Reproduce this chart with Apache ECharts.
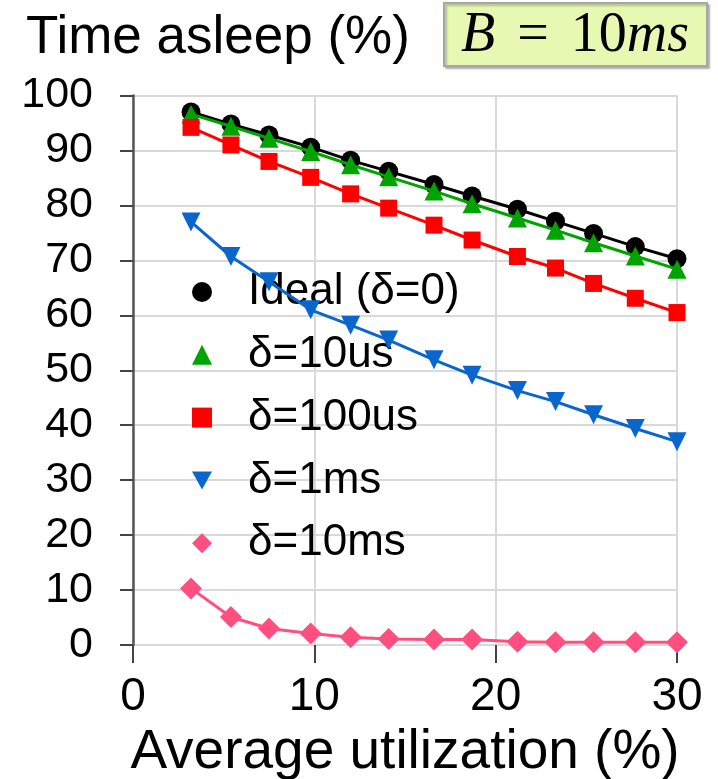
<!DOCTYPE html>
<html>
<head>
<meta charset="utf-8">
<script src="https://cdn.jsdelivr.net/npm/echarts@6/dist/echarts.min.js"></script>
<style>
html,body{margin:0;padding:0;background:#fff;}
#chart{width:718px;height:779px;}
</style>
</head>
<body>
<div id="chart"></div>
<script>
const utilization = [3.2, 5.4, 7.5, 9.8, 12.0, 14.1, 16.6, 18.7, 21.2, 23.3, 25.4, 27.7, 30.0];
const seriesNames = ['Ideal (δ=0)', 'δ=10us', 'δ=100us', 'δ=1ms', 'δ=10ms'];
const ideal   = [97.0, 94.8, 92.8, 90.6, 88.2, 86.2, 83.8, 81.7, 79.3, 77.1, 74.9, 72.5, 70.3];
const d10us   = [96.6, 94.4, 92.2, 89.8, 87.4, 85.2, 82.6, 80.3, 77.7, 75.5, 73.2, 70.8, 68.4];
const d100us  = [94.2, 91.0, 88.0, 85.1, 82.1, 79.5, 76.4, 73.7, 70.7, 68.6, 65.8, 63.1, 60.5];
const d1ms    = [77.0, 70.7, 66.1, 61.0, 58.2, 55.5, 51.9, 49.1, 46.3, 44.3, 41.9, 39.4, 37.0];
const d10ms   = [10.3, 5.1, 3.0, 2.1, 1.4, 1.1, 1.0, 1.0, 0.6, 0.5, 0.5, 0.5, 0.5];
const xTicks = [0, 10, 20, 30];
const yTicks = [0, 10, 20, 30, 40, 50, 60, 70, 80, 90, 100];
const yTitle = 'Time asleep (%)';
const xTitle = 'Average utilization (%)';

const FONT = '"Liberation Sans", Arial, Helvetica, sans-serif';
const SERIF = '"Liberation Serif", "DejaVu Serif", serif';
const downTri = 'path://M0,0 L10,0 L5,9 Z';
const styles = [
  {color: '#000000', symbol: 'circle', size: 19, icon: 'circle'},
  {color: '#00a300', symbol: 'triangle', size: 19, icon: 'triangle'},
  {color: '#ff0000', symbol: 'rect', size: 17, icon: 'rect'},
  {color: '#0a66cc', symbol: downTri, size: 19, icon: downTri},
  {color: '#ff4f80', symbol: 'diamond', size: 22, icon: 'diamond'}
];
const values = [ideal, d10us, d100us, d1ms, d10ms];

const chart = echarts.init(document.getElementById('chart'), null, {renderer: 'canvas'});
chart.setOption({
  animation: false,
  backgroundColor: '#ffffff',
  grid: {left: 133, right: 41, top: 95.5, bottom: 134, containLabel: false, outerBoundsMode: 'none'},
  xAxis: {
    type: 'value', min: xTicks[0], max: xTicks[xTicks.length - 1], interval: 10,
    name: xTitle, nameLocation: 'middle', nameGap: 64,
    nameTextStyle: {fontFamily: FONT, fontSize: 55, color: '#000'},
    axisLine: {show: false},
    axisTick: {show: true, length: 18, lineStyle: {color: '#444', width: 2}},
    axisLabel: {fontFamily: FONT, fontSize: 46, color: '#000', margin: 29},
    splitLine: {show: true, lineStyle: {color: '#d9d9d9', width: 2}}
  },
  yAxis: {
    type: 'value', min: yTicks[0], max: yTicks[yTicks.length - 1], interval: 10,
    axisLine: {show: true, lineStyle: {color: '#555', width: 2.5}},
    axisTick: {show: true, inside: false, length: 13, lineStyle: {color: '#444', width: 2}},
    axisLabel: {fontFamily: FONT, fontSize: 43, color: '#000', margin: 40},
    splitLine: {show: true, lineStyle: {color: '#d9d9d9', width: 2}}
  },
  legend: {
    orient: 'vertical', left: 187, top: 265,
    itemWidth: 20, itemHeight: 20, itemGap: 18.8,
    textStyle: {fontFamily: FONT, fontSize: 44, color: '#000', padding: [0, 0, 0, 31]},
    data: seriesNames.map((n, i) => ({name: n, icon: styles[i].icon, itemStyle: {color: styles[i].color}}))
  },
  graphic: [
    {type: 'text', left: 26, top: 12, style: {text: yTitle, font: '53px ' + FONT, fill: '#000'}},
    {type: 'rect', shape: {x: 444, y: 3, width: 263, height: 63},
     style: {fill: '#e6f8b2', stroke: '#a6a6a6', lineWidth: 2, shadowColor: 'rgba(0,0,0,0.25)', shadowOffsetX: 2, shadowOffsetY: 2, shadowBlur: 2}},
    {type: 'text', x: 575, y: 36,
     style: {
       text: '{i|B}{s| }{r|=}{s| }{r|10}{i|ms}',
       align: 'center', verticalAlign: 'middle',
       rich: {
         i: {fontFamily: SERIF, fontStyle: 'italic', fontSize: 56, fill: '#000'},
         r: {fontFamily: SERIF, fontSize: 56, fill: '#000'},
         s: {fontFamily: SERIF, fontSize: 56, width: 22}
       }
     }}
  ],
  series: values.map((v, i) => ({
    name: seriesNames[i], type: 'line',
    data: utilization.map((x, j) => [x, v[j]]),
    symbol: styles[i].symbol, symbolSize: styles[i].size,
    lineStyle: {color: styles[i].color, width: 3},
    itemStyle: {color: styles[i].color},
    z: 2 + i
  }))
});
</script>
</body>
</html>
